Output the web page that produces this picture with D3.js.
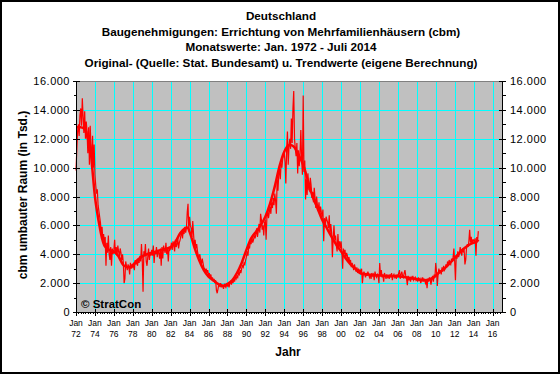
<!DOCTYPE html>
<html>
<head>
<meta charset="utf-8">
<script src="https://cdn.jsdelivr.net/npm/d3@7"></script>
<style>
  body { margin: 0; background: #fff; }
  svg { display: block; font-family: Arial, "Liberation Sans", sans-serif; }
</style>
</head>
<body>
<svg width="560" height="374"></svg>
<script>
// Chart values (cbm umbauter Raum in Tsd., shown in thousands)
const titleLines = [
    "Deutschland",
    "Baugenehmigungen: Errichtung von Mehrfamilienhäusern (cbm)",
    "Monatswerte: Jan. 1972 - Juli 2014",
    "Original- (Quelle: Stat. Bundesamt) u. Trendwerte (eigene Berechnung)"
];
const startYear = 1972;
const tickYears = d3.range(1972, 2017, 2);
const yTicks = d3.range(0, 17, 2);

// monthly original values, Jan 1972 - Jul 2014, one row per year
const original = [
    9.8, 11.2, 12.5, 13.0, 12.2, 13.6, 14.1, 12.9, 14.8, 13.5, 12.4, 13.9,
    12.0, 13.2, 12.5, 11.0, 12.8, 10.2, 12.9, 11.5, 9.9, 12.2, 10.0, 11.6,
    9.5, 8.8, 8.2, 8.5, 7.4, 7.0, 6.6, 6.2, 5.5, 5.9, 5.0, 5.4,
    4.6, 5.2, 3.2, 4.8, 4.1, 5.3, 4.0, 3.6, 4.5, 3.2, 4.4, 4.0,
    4.3, 5.0, 4.0, 4.5, 3.9, 4.6, 4.2, 3.8, 4.4, 4.1, 3.6, 4.0,
    3.4, 2.0, 2.3, 3.5, 3.2, 2.9, 3.3, 3.1, 2.6, 3.4, 3.0, 3.2,
    3.1, 3.4, 2.9, 3.6, 3.3, 3.5, 3.2, 3.7, 3.4, 3.9, 3.5, 4.7,
    3.6, 1.4, 4.2, 3.9, 4.7, 3.5, 3.2, 3.8, 4.4, 3.6, 4.1, 3.9,
    4.3, 3.9, 4.6, 3.4, 4.2, 4.0, 4.5, 3.8, 4.3, 4.1, 3.7, 4.4,
    3.2, 4.5, 3.7, 4.6, 4.3, 4.1, 4.8, 4.0, 4.4, 3.5, 4.5, 4.3,
    4.4, 4.8, 4.3, 4.9, 4.6, 4.2, 5.0, 4.5, 4.7, 5.1, 4.4, 4.8,
    5.0, 5.3, 5.6, 5.1, 5.7, 5.4, 5.9, 5.5, 5.8, 6.9, 7.5, 5.6,
    6.6, 6.0, 5.8, 5.2, 6.3, 5.4, 4.6, 5.0, 4.4, 4.7, 4.2, 3.9,
    3.8, 4.0, 3.6, 3.3, 3.7, 3.4, 3.1, 3.0, 2.8, 3.0, 2.7, 2.9,
    2.5, 2.7, 2.4, 2.6, 2.2, 2.4, 2.1, 2.3, 2.0, 2.2, 1.5, 1.3,
    1.6, 1.9, 1.8, 2.0, 1.7, 1.9, 1.8, 1.6, 1.9, 1.8, 1.7, 1.9,
    1.8, 1.9, 1.7, 2.0, 2.1, 1.9, 2.2, 2.0, 2.3, 2.1, 2.4, 2.3,
    2.5, 2.4, 2.7, 2.6, 2.9, 2.7, 3.0, 3.2, 3.1, 3.4, 3.3, 3.6,
    3.8, 4.2, 3.9, 4.6, 4.4, 4.9, 4.7, 5.2, 4.8, 5.0, 5.3, 5.1,
    5.4, 5.8, 5.2, 5.6, 6.1, 5.5, 6.8, 6.4, 5.7, 6.0, 5.3, 6.2,
    6.3, 5.0, 6.6, 7.0, 6.5, 6.9, 7.3, 6.8, 7.6, 7.2, 7.9, 7.4,
    8.2, 7.7, 6.8, 9.2, 8.4, 9.5, 9.9, 9.2, 10.3, 10.0, 10.6, 10.9,
    11.0, 10.4, 8.9, 11.2, 12.5, 10.2, 11.5, 12.0, 11.3, 13.4, 11.7, 14.1,
    15.3, 12.0, 11.3, 10.8, 11.7, 9.6, 11.2, 10.1, 11.0, 12.6, 10.6, 9.5,
    15.0, 9.7, 10.5, 7.8, 9.2, 8.1, 9.6, 8.5, 8.4, 9.3, 8.8, 7.9,
    8.3, 7.6, 8.6, 7.9, 7.2, 8.0, 7.4, 7.0, 7.6, 6.8, 7.3, 6.9,
    6.6, 7.1, 4.9, 6.5, 5.9, 6.6, 6.4, 6.2, 5.8, 6.7, 5.4, 6.1,
    5.5, 3.8, 5.1, 6.0, 5.0, 5.3, 4.6, 4.2, 5.4, 4.5, 4.9, 4.4,
    4.9, 4.2, 3.0, 4.4, 4.0, 4.3, 3.7, 4.1, 3.9, 3.5, 3.8, 3.4,
    3.6, 3.1, 3.4, 3.2, 2.9, 3.3, 3.0, 2.8, 3.1, 2.7, 3.0, 2.8,
    2.9, 2.6, 3.0, 2.0, 2.5, 2.8, 2.6, 2.4, 2.7, 2.5, 2.8, 2.6,
    2.4, 2.6, 2.3, 2.7, 2.5, 2.6, 2.2, 2.8, 2.5, 2.4, 2.6, 2.5,
    2.0, 3.4, 2.5, 2.9, 2.4, 2.6, 2.1, 2.7, 2.5, 2.3, 2.6, 2.4,
    2.5, 2.3, 2.6, 2.4, 2.7, 2.2, 2.5, 2.6, 2.4, 2.5, 2.3, 2.6,
    2.4, 2.7, 2.9, 2.3, 2.6, 2.8, 2.5, 2.4, 2.7, 2.9, 2.5, 2.3,
    1.85, 2.5, 2.2, 2.4, 2.1, 2.4, 2.3, 2.5, 2.2, 2.3, 2.4, 2.2,
    2.3, 2.1, 2.4, 2.2, 2.3, 2.0, 2.2, 2.4, 2.1, 2.3, 2.2, 2.0,
    2.2, 1.65, 2.3, 2.1, 2.4, 2.2, 1.9, 2.3, 2.5, 2.1, 2.6, 2.4,
    3.4, 2.8, 1.8, 2.6, 3.0, 2.7, 2.9, 2.6, 3.1, 2.8, 3.2, 2.9,
    3.0, 3.3, 3.1, 3.5, 3.2, 3.6, 3.4, 3.3, 3.7, 3.5, 3.8, 4.4,
    3.5, 2.2, 3.9, 3.7, 4.2, 3.8, 4.0, 4.5, 4.1, 3.9, 4.4, 4.2,
    4.3, 3.3, 3.6, 4.4, 4.7, 4.5, 4.9, 5.7, 4.8, 5.2, 4.7, 5.0,
    5.0, 4.8, 5.1, 3.9, 5.2, 4.9, 5.6
];

// trend values read at these points in time
const trendYears = [1972, 1972.5, 1973, 1973.25, 1973.5, 1973.7, 1974, 1974.25, 1974.5, 1974.75,
    1975, 1975.5, 1976, 1976.5, 1977, 1977.5, 1978, 1978.5, 1979, 1979.5, 1980, 1981, 1982, 1982.5,
    1983, 1983.5, 1983.8, 1984, 1984.5, 1985, 1985.5, 1986, 1986.5, 1987, 1987.5, 1988, 1988.5,
    1989, 1989.5, 1990, 1990.5, 1991, 1991.5, 1992, 1992.5, 1993, 1993.5, 1994, 1994.5, 1994.75,
    1995, 1995.5, 1996, 1996.5, 1997, 1997.5, 1998, 1998.5, 1999, 1999.5, 2000, 2000.5, 2001, 2001.5,
    2002, 2002.8, 2003.8, 2004.8, 2005.8, 2006.8, 2007.8, 2008.8, 2009.3, 2009.8, 2010.3, 2010.8,
    2011.3, 2011.8, 2012.3, 2012.8, 2013.3, 2013.8, 2014.3, 2014.5];
const trendValues = [12.8, 12.8, 12.6, 12.0, 11.5, 10.1, 8.0, 6.85, 5.9, 5.1,
    4.6, 4.3, 4.2, 3.85, 3.25, 3.1, 3.25, 3.6, 3.85, 4.0, 4.1, 4.3, 4.5, 4.85,
    5.45, 5.8, 5.85, 5.55, 4.5, 3.6, 2.9, 2.45, 2.2, 1.95, 1.8, 1.95, 2.2,
    2.7, 3.4, 4.3, 5.1, 5.55, 6.0, 6.6, 7.5, 8.7, 10.1, 11.1, 11.55, 11.55,
    11.45, 10.9, 10.2, 9.1, 8.0, 7.2, 6.4, 5.8, 5.2, 4.65, 4.2, 3.7, 3.3, 3.0,
    2.7, 2.6, 2.55, 2.5, 2.5, 2.4, 2.3, 2.2, 2.25, 2.4, 2.7, 2.95,
    3.25, 3.6, 3.95, 4.3, 4.55, 4.75, 4.85, 5.0];

const svg = d3.select("svg");
const mLeft = 76, mRight = 502, mTop = 81, mBottom = 312;

const x = d3.scaleLinear().domain([1972, 2017]).range([mLeft, mRight]);
const y = d3.scaleLinear().domain([0, 16]).range([mBottom, mTop]);

const de = d3.formatLocale({decimal: ",", thousands: ".", grouping: [3], currency: ["", " €"]});
const fmt = de.format(",");

// outer frame
svg.append("rect")
    .attr("x", 1).attr("y", 1).attr("width", 558).attr("height", 372)
    .attr("fill", "#fff").attr("stroke", "#000").attr("stroke-width", 2);

// titles
svg.append("g").selectAll("text")
    .data(titleLines)
    .join("text")
    .attr("x", 281)
    .attr("y", (_d, i) => 20 + i * 15.7)
    .attr("text-anchor", "middle")
    .attr("font-size", 11.7)
    .attr("font-weight", "bold")
    .text(d => d);

// plot background
svg.append("rect")
    .attr("x", mLeft).attr("y", mTop)
    .attr("width", mRight - mLeft).attr("height", mBottom - mTop)
    .attr("fill", "#c0c0c0");

// grid
const grid = svg.append("g").attr("stroke", "#00ffff").attr("stroke-width", 1);
grid.selectAll("line.h")
    .data(yTicks.filter(d => d > 0 && d < 16))
    .join("line")
    .attr("class", "h")
    .attr("x1", mLeft).attr("x2", mRight)
    .attr("y1", d => Math.round(y(d)) + 0.5).attr("y2", d => Math.round(y(d)) + 0.5);
grid.selectAll("line.v")
    .data(tickYears.filter(d => d > 1972))
    .join("line")
    .attr("class", "v")
    .attr("y1", mTop).attr("y2", mBottom)
    .attr("x1", d => Math.round(x(d)) + 0.5).attr("x2", d => Math.round(x(d)) + 0.5);

// top border of the plot
svg.append("line")
    .attr("x1", mLeft).attr("x2", mRight).attr("y1", mTop + 0.5).attr("y2", mTop + 0.5)
    .attr("stroke", "#808080");

// series
const months = original.map((v, i) => ({t: startYear + i / 12, v}));
const trend = trendYears.map((t, i) => ({t, v: trendValues[i]}));

const line = d3.line().x(d => x(d.t)).y(d => y(d.v));

svg.append("path")
    .datum(months)
    .attr("fill", "none")
    .attr("stroke", "#ff0000")
    .attr("stroke-width", 1.2)
    .attr("d", line);

svg.append("path")
    .datum(trend)
    .attr("fill", "none")
    .attr("stroke", "#ff0000")
    .attr("stroke-width", 2.5)
    .attr("d", line.curve(d3.curveMonotoneX));

// axes
const axes = svg.append("g").attr("stroke", "#000").attr("shape-rendering", "crispEdges");
const minorY = d3.range(1, 16, 2);

[mLeft, mRight].forEach(ax => {
    axes.append("line").attr("x1", ax + 0.5).attr("x2", ax + 0.5).attr("y1", mTop).attr("y2", mBottom + 1);
    axes.selectAll(null).data(yTicks).join("line")
        .attr("x1", ax - 3).attr("x2", ax + 4)
        .attr("y1", d => Math.round(y(d)) + 0.5).attr("y2", d => Math.round(y(d)) + 0.5);
    axes.selectAll(null).data(minorY).join("line")
        .attr("x1", ax === mLeft ? ax - 2 : ax + 1).attr("x2", ax === mLeft ? ax + 1 : ax + 4)
        .attr("y1", d => Math.round(y(d)) + 0.5).attr("y2", d => Math.round(y(d)) + 0.5);
});

axes.append("line").attr("x1", mLeft).attr("x2", mRight + 1).attr("y1", mBottom + 0.5).attr("y2", mBottom + 0.5);
axes.selectAll(null).data(tickYears).join("line")
    .attr("x1", d => Math.round(x(d)) + 0.5).attr("x2", d => Math.round(x(d)) + 0.5)
    .attr("y1", mBottom - 3).attr("y2", mBottom + 4);
axes.selectAll(null).data(d3.range(1972.25, 2017, 0.25).filter(d => d % 2 !== 0)).join("line")
    .attr("x1", d => Math.round(x(d)) + 0.5).attr("x2", d => Math.round(x(d)) + 0.5)
    .attr("y1", mBottom).attr("y2", mBottom + 2);

// y tick labels
svg.append("g").selectAll("text")
    .data(yTicks).join("text")
    .attr("x", 70).attr("y", d => y(d) + 4)
    .attr("text-anchor", "end").attr("font-size", 11).attr("letter-spacing", 0.5)
    .text(d => fmt(d * 1000));
svg.append("g").selectAll("text")
    .data(yTicks).join("text")
    .attr("x", 510).attr("y", d => y(d) + 4)
    .attr("font-size", 11).attr("letter-spacing", 0.5)
    .text(d => fmt(d * 1000));

// x tick labels
const xl = svg.append("g").selectAll("text")
    .data(tickYears).join("text")
    .attr("x", d => x(d))
    .attr("text-anchor", "middle")
    .attr("font-size", 8.5);
xl.append("tspan").attr("x", d => x(d)).attr("y", 325.5).text("Jan");
xl.append("tspan").attr("x", d => x(d)).attr("y", 337).text(d => String(d % 100).padStart(2, "0"));

// axis titles
svg.append("text")
    .attr("x", 288).attr("y", 356)
    .attr("text-anchor", "middle").attr("font-size", 12).attr("font-weight", "bold")
    .text("Jahr");
svg.append("text")
    .attr("transform", "translate(27,195) rotate(-90)")
    .attr("text-anchor", "middle").attr("font-size", 12).attr("font-weight", "bold")
    .text("cbm umbauter Raum (in Tsd.)");

// copyright
svg.append("text")
    .attr("x", 81).attr("y", 308)
    .attr("font-size", 11.5).attr("font-weight", "bold")
    .text("© StratCon");
</script>
</body>
</html>
